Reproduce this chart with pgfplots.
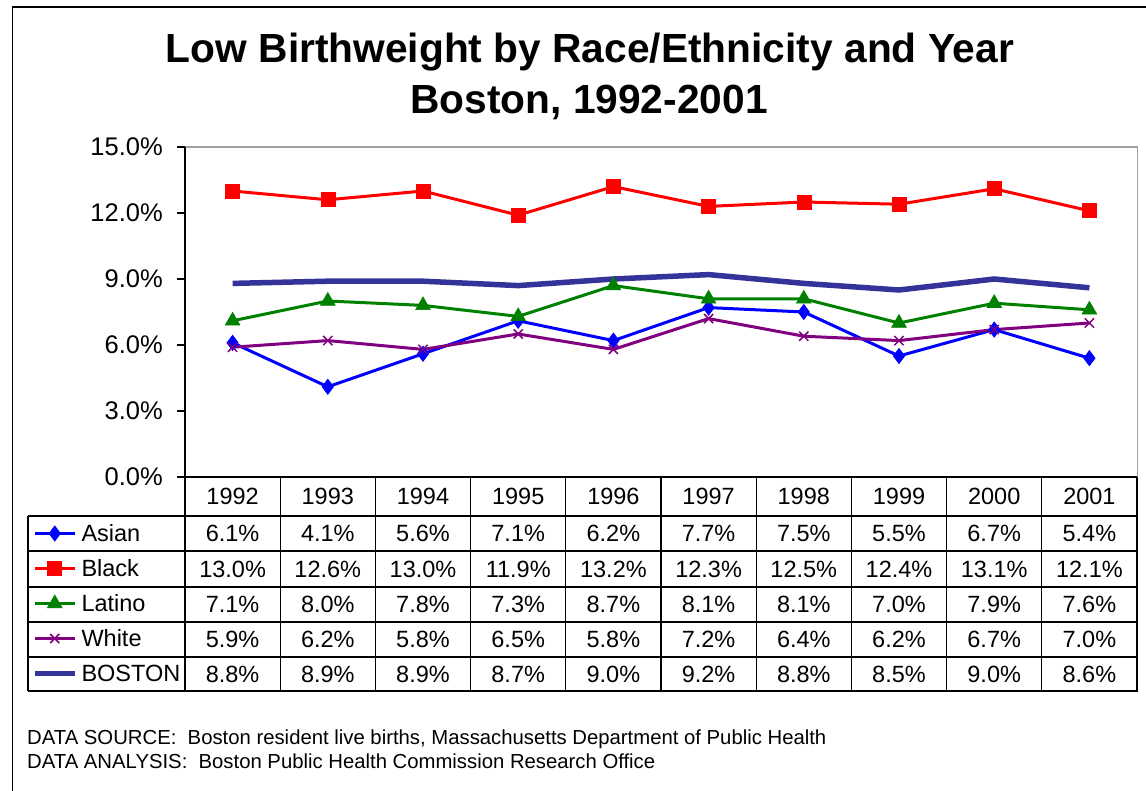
\documentclass[border=0pt]{standalone}
\usepackage{pgfplots}
\pgfplotsset{compat=1.18}
\usepackage{fontspec}
\setmainfont{Liberation Sans}
\begin{document}
\begin{tikzpicture}
\useasboundingbox (0pt,0pt) rectangle (1146pt,-791pt);
\begin{axis}[
 at={(185pt,-477pt)}, anchor=south west,
 width=952pt, height=330pt, scale only axis,
 xmin=-0.5, xmax=9.5, ymin=0, ymax=15,
 xtick=\empty,
 ytick={0,3,6,9,12,15}, ytick pos=left,
 yticklabel={\pgfmathprintnumber[fixed,fixed zerofill,precision=1]{\tick}\%},
 /pgf/number format/assume math mode=true,
 tick align=outside, major tick length=8pt,
 ytick style={black, line width=1.2pt},
 yticklabel style={font=\fontsize{25.5}{30}\selectfont, inner sep=0pt, xshift=-14pt},
 axis line style={draw=none},
 clip=false,
 legend image code/.code={\draw[mark repeat=2,mark phase=2] plot coordinates {(0pt,0pt) (20pt,0pt) (40pt,0pt)};},
 legend style={at={(axis description cs:-0.16071,-0.118182)}, anchor=north west, draw=none, fill=none,
   inner sep=0pt, outer sep=0pt, row sep=0pt, column sep=4pt,
   font=\fontsize{23.5}{28}\selectfont, cells={anchor=west},
   nodes={inner sep=0pt, text height=25pt, text depth=10pt}},
]
\addplot[blue, line width=3pt, mark=diamond*, mark size=7.5pt, mark options={solid, line width=0.8pt}]
 coordinates {(0,6.1) (1,4.1) (2,5.6) (3,7.1) (4,6.2) (5,7.7) (6,7.5) (7,5.5) (8,6.7) (9,5.4)};
\addlegendentry{Asian}
\addplot[red, line width=3pt, mark=square*, mark size=7pt, mark options={solid, line width=0.6pt}]
 coordinates {(0,13.0) (1,12.6) (2,13.0) (3,11.9) (4,13.2) (5,12.3) (6,12.5) (7,12.4) (8,13.1) (9,12.1)};
\addlegendentry{Black}
\addplot[color={rgb,255:red,0;green,128;blue,0}, line width=3pt, mark=triangle*, mark size=8.5pt, mark options={solid, line width=0.6pt}]
 coordinates {(0,7.1) (1,8.0) (2,7.8) (3,7.3) (4,8.7) (5,8.1) (6,8.1) (7,7.0) (8,7.9) (9,7.6)};
\addlegendentry{Latino}
\addplot[color={rgb,255:red,128;green,0;blue,128}, line width=3pt, mark=x, mark size=6.5pt, mark options={solid, line width=1.5pt}]
 coordinates {(0,5.9) (1,6.2) (2,5.8) (3,6.5) (4,5.8) (5,7.2) (6,6.4) (7,6.2) (8,6.7) (9,7.0)};
\addlegendentry{White}
\addplot[color={rgb,255:red,51;green,51;blue,153}, line width=5.5pt, no marks]
 coordinates {(0,8.8) (1,8.9) (2,8.9) (3,8.7) (4,9.0) (5,9.2) (6,8.8) (7,8.5) (8,9.0) (9,8.6)};
\addlegendentry{BOSTON}
\end{axis}
\begin{scope}[x=1pt,y=-1pt]
% outer frame
\draw[line width=1.6pt] (12.5,800) -- (12.5,7) -- (1160,7);
% plot frame
\draw[gray!75, line width=1.6pt] (185,147) -- (1137.5,147) -- (1137.5,477);
\draw[black, line width=1.3pt] (185,147) -- (185,691);
\draw[black, line width=1.3pt] (185,477) -- (1137,477);
% table grid
\foreach \yy in {516,551,587,622,657,691} \draw[line width=1.3pt] (28,\yy) -- (1137.5,\yy);
\draw[line width=1.3pt] (28,516) -- (28,691);
\foreach \k in {1,...,10} \draw[line width=1.3pt] ({185+95.2*\k},477) -- ({185+95.2*\k},691);
\begin{scope}[every node/.style={font=\fontsize{23.5}{28}\selectfont, inner sep=0pt}]
\foreach \yr [count=\i from 0] in {1992,1993,1994,1995,1996,1997,1998,1999,2000,2001}
  \node at ({232.6+95.2*\i},496.5) {\yr};
\foreach \v [count=\i from 0] in {6.1,4.1,5.6,7.1,6.2,7.7,7.5,5.5,6.7,5.4}
  \node at ({232.6+95.2*\i},533.5) {\v\%};
\foreach \v [count=\i from 0] in {13.0,12.6,13.0,11.9,13.2,12.3,12.5,12.4,13.1,12.1}
  \node at ({232.6+95.2*\i},569) {\v\%};
\foreach \v [count=\i from 0] in {7.1,8.0,7.8,7.3,8.7,8.1,8.1,7.0,7.9,7.6}
  \node at ({232.6+95.2*\i},604.5) {\v\%};
\foreach \v [count=\i from 0] in {5.9,6.2,5.8,6.5,5.8,7.2,6.4,6.2,6.7,7.0}
  \node at ({232.6+95.2*\i},639.5) {\v\%};
\foreach \v [count=\i from 0] in {8.8,8.9,8.9,8.7,9.0,9.2,8.8,8.5,9.0,8.6}
  \node at ({232.6+95.2*\i},674) {\v\%};
\end{scope}
% title
\node[anchor=base, font=\fontsize{40.7}{48}\selectfont\bfseries, inner sep=0pt] at (590,63) {Low Birthweight by Race/Ethnicity and Year};
\node[anchor=base, font=\fontsize{40.7}{48}\selectfont\bfseries, inner sep=0pt] at (589,114) {Boston, 1992-2001};
% footnotes
\node[anchor=base west, font=\fontsize{20.3}{24}\selectfont, inner sep=0pt] at (27,744) {DATA SOURCE:\ \ Boston resident live births, Massachusetts Department of Public Health};
\node[anchor=base west, font=\fontsize{20.3}{24}\selectfont, inner sep=0pt] at (27,768) {DATA ANALYSIS:\ \ Boston Public Health Commission Research Office};
\end{scope}
\end{tikzpicture}
\end{document}
